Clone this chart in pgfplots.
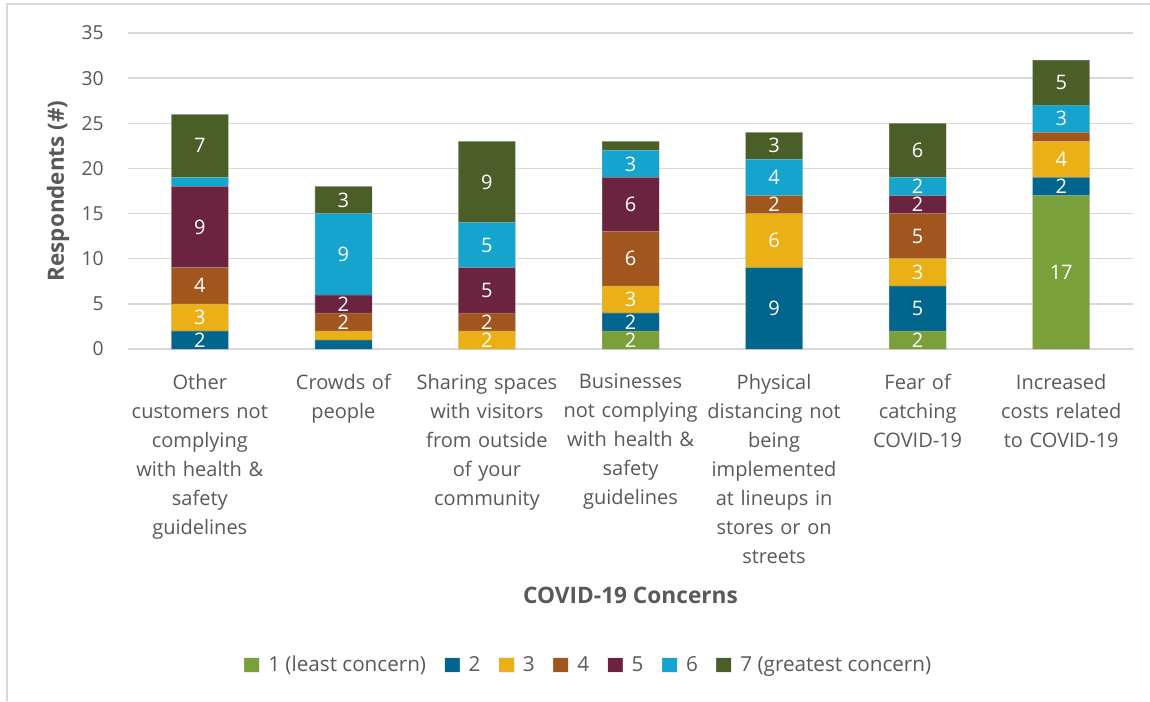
\documentclass[border=0pt]{standalone}
\usepackage{pgfplots}
\pgfplotsset{compat=1.18}
\usepackage{fontspec}
\setmainfont{Open Sans}
\definecolor{c1}{RGB}{122,160,58}
\definecolor{c2}{RGB}{0,102,142}
\definecolor{c3}{RGB}{234,176,21}
\definecolor{c4}{RGB}{160,86,28}
\definecolor{c5}{RGB}{108,35,64}
\definecolor{c6}{RGB}{20,164,206}
\definecolor{c7}{RGB}{74,94,39}
\definecolor{txt}{RGB}{89,89,89}
\definecolor{gridc}{RGB}{217,217,217}

\pgfplotstableread{
x s1 s2 s3 s4 s5 s6 s7
0 0 2 3 4 9 1 7
1 0 1 1 2 2 9 3
2 0 0 2 2 5 5 9
3 2 2 3 6 6 3 1
4 0 9 6 2 0 4 3
5 2 5 3 5 2 2 6
6 17 2 4 1 0 3 5
}\datatable

% label positions (segment midpoints) for segments of 2 or more
\pgfplotstableread{
x y l
0 1 2
0 3.5 3
0 7 4
0 13.5 9
0 22.5 7
1 3 2
1 5 2
1 10.5 9
1 16.5 3
2 1 2
2 3 2
2 6.5 5
2 11.5 5
2 18.5 9
3 1 2
3 3 2
3 5.5 3
3 10 6
3 16 6
3 20.5 3
4 4.5 9
4 12 6
4 16 2
4 19 4
4 22.5 3
5 1 2
5 4.5 5
5 8.5 3
5 12.5 5
5 16 2
5 18 2
5 22 6
6 8.5 17
6 18 2
6 21 4
6 25.5 3
6 29.5 5
}\labeltable

\pgfplotsset{
  common/.style={
    at={(96pt,264pt)}, anchor=south west,
    scale only axis, width=753.75pt, height=237pt,
    xmin=-0.5, xmax=6.5, ymin=0, ymax=35,
  }
}

\begin{document}
\begin{tikzpicture}
\useasboundingbox (0,0) rectangle (862.5pt,525.75pt);
\draw[gridc, line width=1.2pt] (5.25pt,0pt) -- (5.25pt,522.75pt) -- (862.5pt,522.75pt);
\begin{axis}[
  common,
  ybar stacked, bar width=42.75pt,
  separate axis lines,
  axis x line*=bottom, axis y line*=left,
  x axis line style={gridc, line width=1pt, -},
  y axis line style={draw=none},
  major tick length=0pt,
  ymajorgrids, grid style={gridc, line width=1pt},
  ytick={0,5,...,35},
  xtick={0,...,6},
  xticklabels={
    {Other\\customers not\\complying\\with health \&\\safety\\guidelines},
    {Crowds of\\people},
    {Sharing spaces\\with visitors\\from outside\\of your\\community},
    {Businesses\\not complying\\with health \&\\safety\\guidelines},
    {Physical\\distancing not\\being\\implemented\\at lineups in\\stores or on\\streets},
    {Fear of\\catching\\COVID-19},
    {Increased\\costs related\\to COVID-19}},
  /pgf/number format/assume math mode=true,
  yticklabel style={font=\fontsize{14.5}{16}\selectfont, text=txt, inner sep=0pt, xshift=-18pt},
  xticklabel style={font=\fontsize{15}{21.75}\selectfont, text=txt, inner sep=0pt, align=center, text width=115pt, yshift=-18.5pt},
  ylabel={Respondents (\#)},
  xlabel={COVID-19 Concerns},
  every axis y label/.style={at={(axis description cs:-0.0697,0.5)}, rotate=90, anchor=center, font=\fontsize{16.8}{18}\selectfont\bfseries, text=txt},
  every axis x label/.style={at={(axis description cs:0.5,-0.7785)}, anchor=center, font=\fontsize{17}{19}\selectfont\bfseries, text=txt},
  legend style={at={(axis description cs:0.4587,-1.0)}, anchor=center, draw=none, fill=none,
    legend columns=7, font=\fontsize{15.5}{17}\selectfont, text=txt,
    /tikz/every even column/.append style={column sep=11.75pt}},
  legend image code/.code={\fill[#1] (0pt,-5.6pt) rectangle (11.25pt,5.6pt); \path (15.75pt,0pt);},
  every axis plot/.append style={draw=white!70!black, draw opacity=0.25, line width=0.4pt},
]
\addplot[fill=c1] table[x=x,y=s1] {\datatable};
\addplot[fill=c2] table[x=x,y=s2] {\datatable};
\addplot[fill=c3] table[x=x,y=s3] {\datatable};
\addplot[fill=c4] table[x=x,y=s4] {\datatable};
\addplot[fill=c5] table[x=x,y=s5] {\datatable};
\addplot[fill=c6] table[x=x,y=s6] {\datatable};
\addplot[fill=c7] table[x=x,y=s7] {\datatable};
\legend{1 (least concern),2,3,4,5,6,7 (greatest concern)}
\end{axis}
\begin{axis}[common, hide axis]
\addplot[draw=none, mark=none, nodes near coords, point meta=explicit symbolic,
  every node near coord/.append style={anchor=center, font=\fontsize{15}{16}\selectfont, text=white, inner sep=0pt}]
  table[x=x, y=y, meta=l] {\labeltable};
\end{axis}
\end{tikzpicture}
\end{document}
